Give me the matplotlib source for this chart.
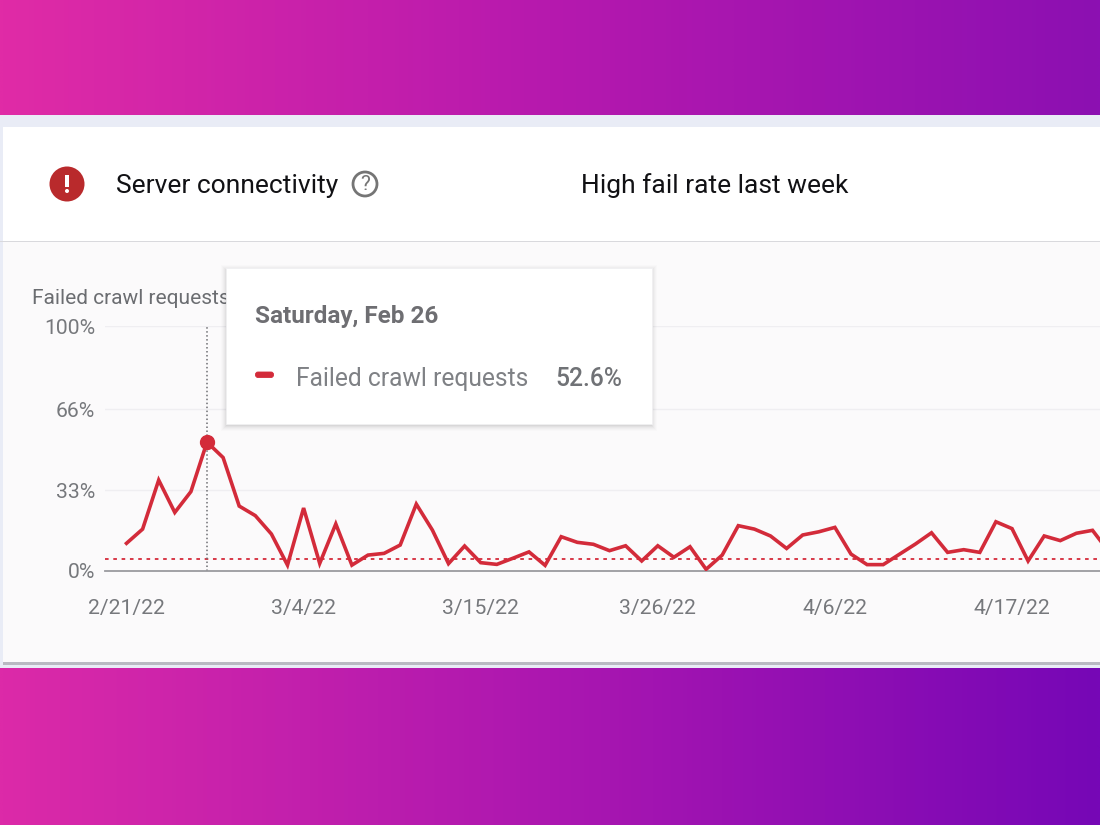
import numpy as np
import matplotlib
matplotlib.use("Agg")
import matplotlib.pyplot as plt
from matplotlib.patches import Rectangle, Circle, FancyBboxPatch
from matplotlib.colors import LinearSegmentedColormap

plt.rcParams['font.family'] = ['Roboto', 'DejaVu Sans']

failed_pct = [11.3, 17.1, 37.1, 23.9, 32.4, 52.6, 46.3, 26.5, 22.6, 15.1, 2.4,
              25.7, 3.1, 19.2, 2.4, 6.5, 7.2, 10.6, 27.3, 16.7, 3.0,
              10.2, 3.4, 2.7, 5.2, 7.8, 2.3, 14.0, 11.7, 10.9, 8.3,
              10.3, 4.1, 10.3, 5.6, 9.9, 0.7, 6.5, 18.5, 17.1, 14.3,
              9.2, 14.7, 16.0, 17.8, 6.9, 2.6, 2.6, 6.8, 11.0, 15.6,
              7.6, 8.7, 7.6, 20.1, 17.3, 4.1, 14.3, 12.4, 15.4, 16.6, 8.0]
threshold_pct = 5
y_ticks = [0, 33, 66, 100]
y_labels = ['0%', '33%', '66%', '100%']
x_ticks = [0, 11, 22, 33, 44, 55]
x_labels = ['2/21/22', '3/4/22', '3/15/22', '3/26/22', '4/6/22', '4/17/22']
hover_day = 5

W, H = 1100, 825
fig = plt.figure(figsize=(11, 8.25), dpi=100)

# background layer in pixel coordinates
bg = fig.add_axes([0, 0, 1, 1], zorder=0)
bg.set_xlim(0, W); bg.set_ylim(H, 0); bg.axis('off')
cm_top = LinearSegmentedColormap.from_list('t', ['#E02BA6', '#B619AE', '#8C10B2'])
cm_bot = LinearSegmentedColormap.from_list('b', ['#DC2AA8', '#AC17B0', '#7607B6'])
grad = np.linspace(0, 1, 512).reshape(1, -1)
bg.imshow(grad, cmap=cm_top, extent=[0, W, 115, 0], aspect='auto', zorder=1)
bg.imshow(grad, cmap=cm_bot, extent=[0, W, H, 668], aspect='auto', zorder=1)
bg.set_xlim(0, W); bg.set_ylim(H, 0)
bg.add_patch(Rectangle((0, 115), W, 553, fc='#E9ECF6', ec='none', zorder=2))
bg.add_patch(Rectangle((3, 127), W, 536, fc='#FFFFFF', ec='none', zorder=3))
bg.add_patch(Rectangle((3, 241), W, 422, fc='#FBFAFB', ec='none', zorder=3))
bg.add_patch(Rectangle((0, 241), W, 1.2, fc='#D9D9DD', ec='none', zorder=4))
bg.add_patch(Rectangle((3, 662), W, 3, fc='#B9B9C2', ec='none', zorder=4))
bg.add_patch(Circle((67, 184), 17.5, fc='#B92A2C', ec='none', zorder=5))
bg.add_patch(Rectangle((65.2, 174.5), 3.6, 12, fc='white', ec='none', zorder=6))
bg.add_patch(Circle((67, 191), 2, fc='white', ec='none', zorder=6))
bg.add_patch(Circle((365, 184), 12, fc='none', ec='#757575', lw=2, zorder=5))
bg.text(365, 184.5, '?', fontsize=15, color='#757575', ha='center', va='center', zorder=6)
bg.text(116, 186, 'Server connectivity', fontsize=19, color='#111114', va='center', zorder=6)
bg.text(581, 186, 'High fail rate last week', fontsize=19, color='#111114', va='center', zorder=6)
bg.text(32, 299, 'Failed crawl requests', fontsize=15, color='#6B6D71', va='center', zorder=6)

# chart, scaled so day 0 sits at x=126.5 px and 16.1 px per day
left, right, top, bottom = 105, 1100, 326, 571
ax = fig.add_axes([left / W, 1 - bottom / H, (right - left) / W, (bottom - top) / H], zorder=1)
ax.patch.set_alpha(0)
ax.set_xlim((left - 126.5) / 16.1, (right - 126.5) / 16.1)
ax.set_ylim(0, 100)
days = np.arange(len(failed_pct))
for s in ['top', 'right', 'left']:
    ax.spines[s].set_visible(False)
ax.spines['bottom'].set_color('#9A9A9E')
ax.spines['bottom'].set_linewidth(1.3)
ax.set_yticks(y_ticks, y_labels)
ax.set_xticks(x_ticks, x_labels)
ax.tick_params(length=0, labelsize=15.2, labelcolor='#76787C')
ax.tick_params(axis='x', pad=20)
ax.tick_params(axis='y', pad=7)
for t in y_ticks[1:]:
    ax.axhline(t, color='#EFEEF1', lw=1, zorder=1)
ax.axhline(threshold_pct, color='#D5293A', lw=1.3, ls=(0, (2, 2.6)), zorder=2)
ax.plot([hover_day, hover_day], [0, 100], color='#6E6E72', lw=1.1, ls=(0, (1, 1.6)), zorder=2)
ax.plot(days, failed_pct, color='#D32B3A', lw=2.6, solid_joinstyle='miter', zorder=3)
ax.plot([hover_day], [failed_pct[hover_day]], 'o', color='#D32B3A', ms=10, zorder=4, clip_on=False)

# tooltip overlay
ov = fig.add_axes([0, 0, 1, 1], zorder=2)
ov.patch.set_alpha(0)
ov.set_xlim(0, W); ov.set_ylim(H, 0); ov.axis('off')
for i, a in zip(range(6, 0, -1), [0.012, 0.016, 0.02, 0.025, 0.03, 0.04]):
    ov.add_patch(FancyBboxPatch((226 - i + 1, 268 - i + 3), 426 + 2 * i - 2, 156 + 2 * i - 2,
                                boxstyle='square,pad=0', fc='#000000', ec='none', alpha=a))
ov.add_patch(Rectangle((226, 268), 426, 156, fc='white', ec='#F0F0F2', lw=0.6))
ov.text(255, 316, 'Saturday, Feb 26', fontsize=17.5, fontweight='bold', color='#6E6E72', va='center')
ov.add_patch(FancyBboxPatch((255.5, 372), 18, 5.5, boxstyle='round,pad=0,rounding_size=2.5',
                            fc='#D32B3A', ec='#D32B3A', lw=0.6))
ov.text(296, 379, 'Failed crawl requests', fontsize=17.7, color='#7F8185', va='center')
ov.text(622.5, 379, f'{failed_pct[hover_day]}%', fontsize=17.7, fontweight='medium', color='#707276',
        va='center', ha='right')

fig.savefig('out.png', dpi=100)
